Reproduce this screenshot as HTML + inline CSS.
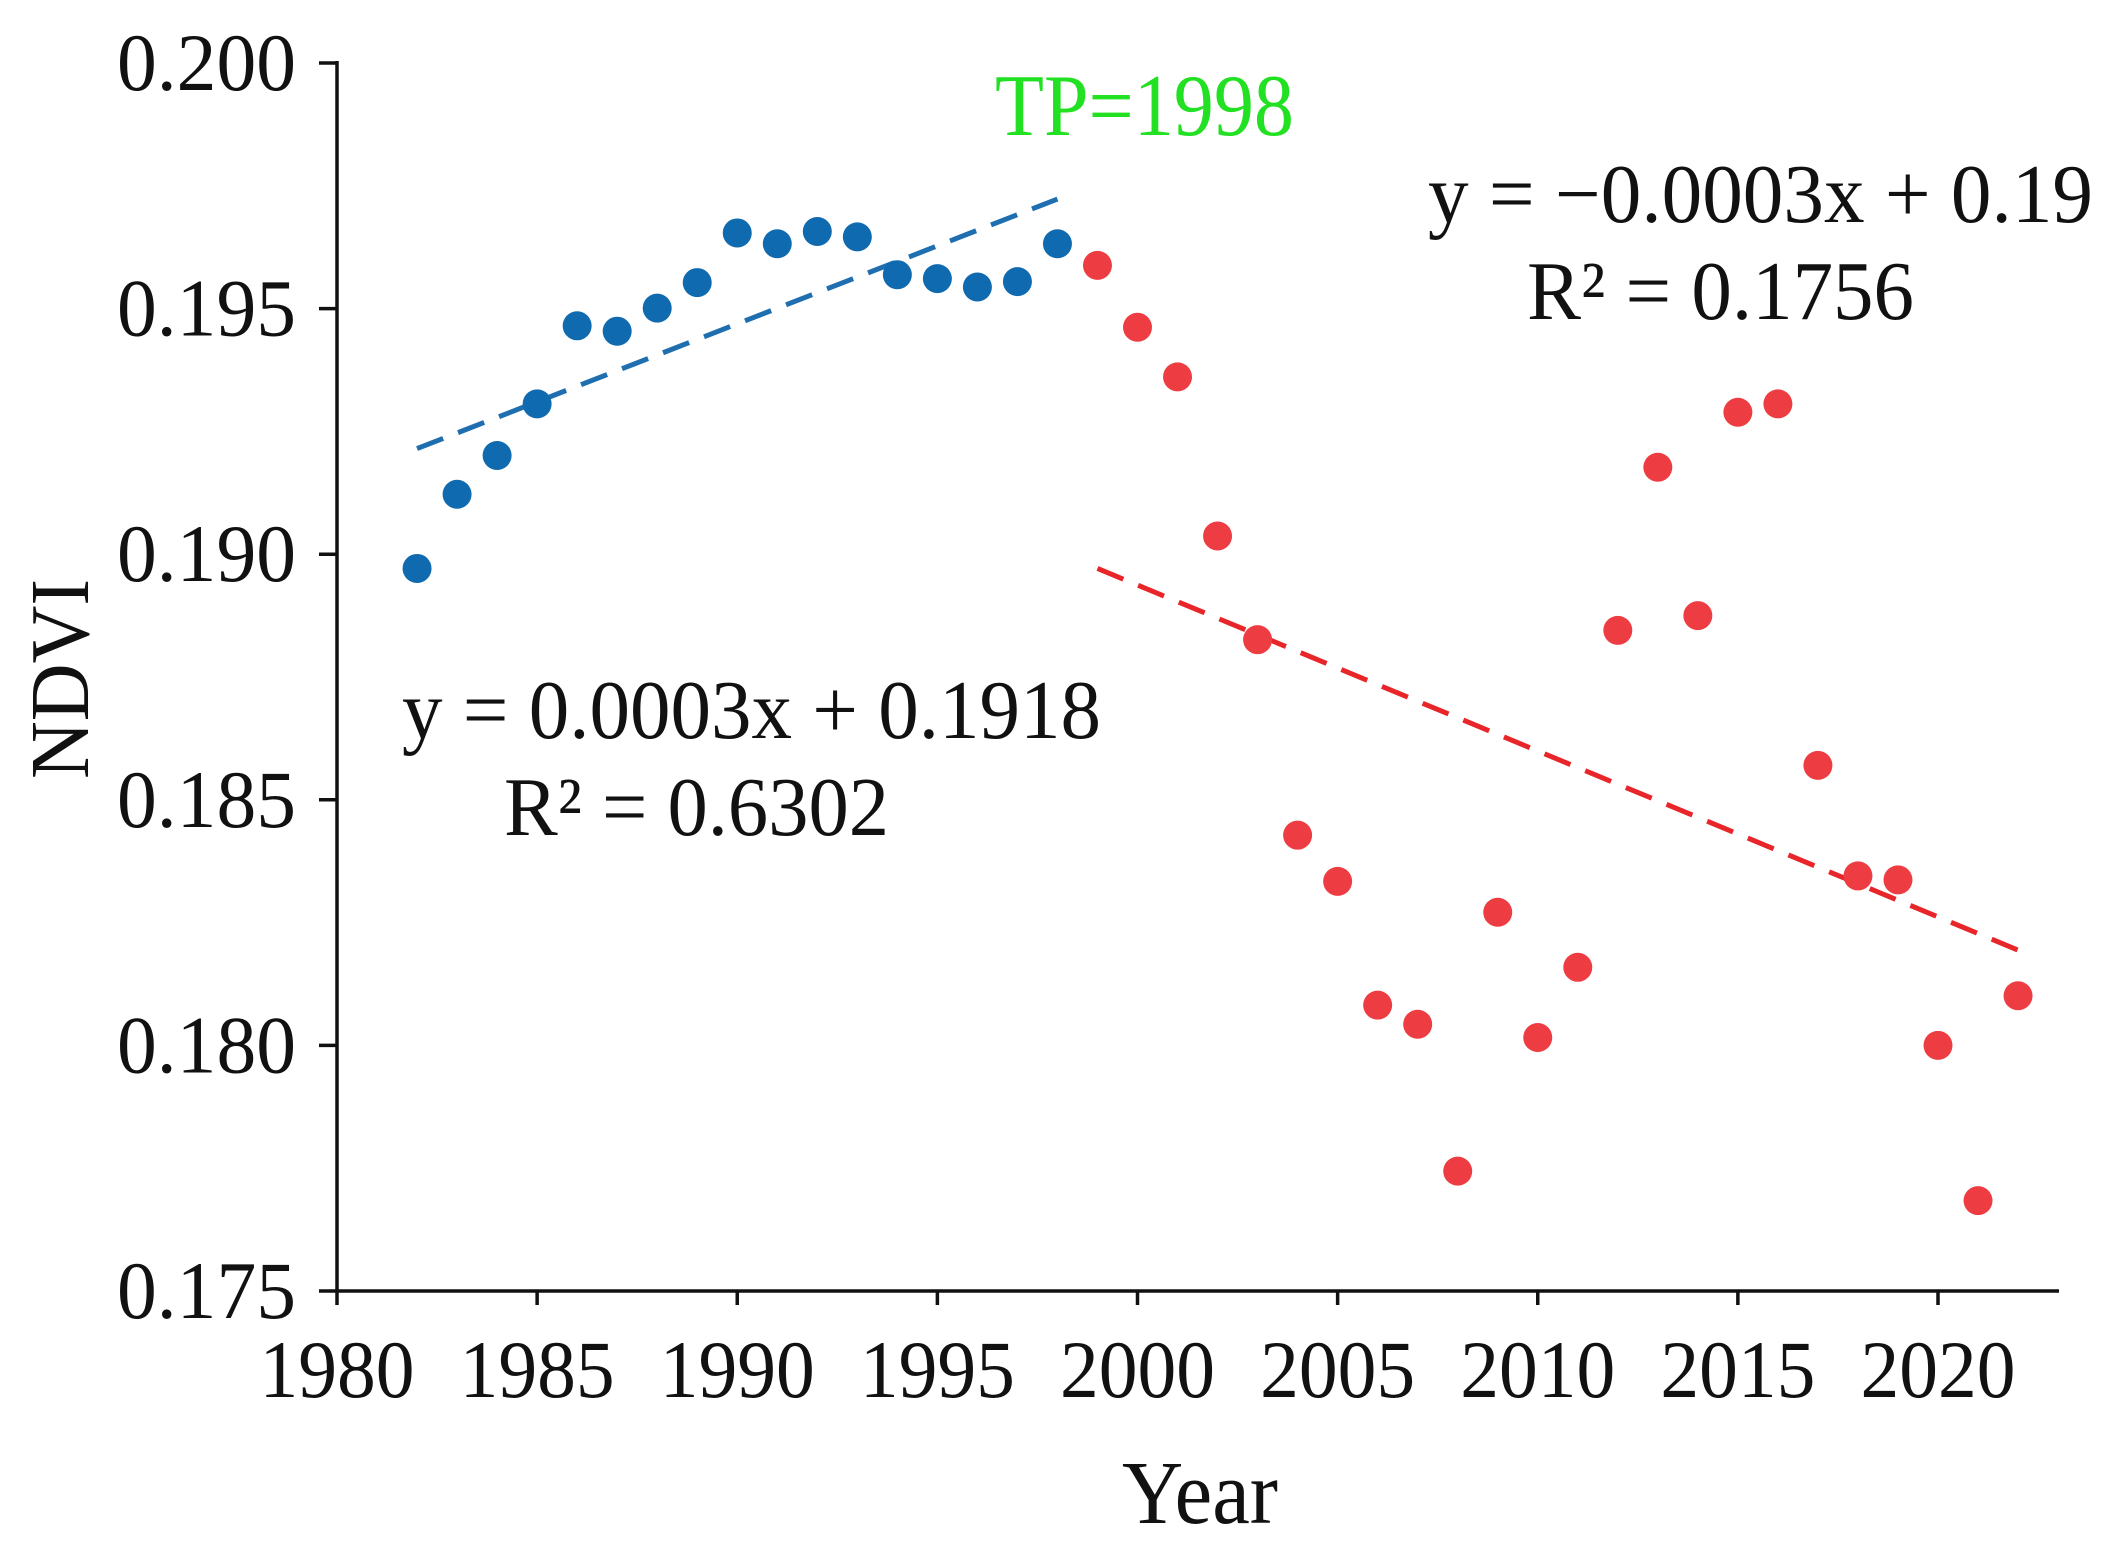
<!DOCTYPE html>
<html><head><meta charset="utf-8"><style>
html,body{margin:0;padding:0;background:#fff;}
svg{display:block;font-family:"Liberation Serif","DejaVu Serif",serif;}
</style></head><body>
<svg id="chart" width="2113" height="1557" viewBox="0 0 2113 1557" xmlns="http://www.w3.org/2000/svg">
<g id="axes"></g>
<g id="marks"></g>
<text x="995" y="135" font-size="88" fill="#22e022" textLength="299" lengthAdjust="spacingAndGlyphs">TP=1998</text>
<text x="1428" y="222" font-size="84" fill="#111" textLength="665" lengthAdjust="spacingAndGlyphs">y = −0.0003x + 0.19</text>
<text x="1527" y="319" font-size="84" fill="#111" textLength="387" lengthAdjust="spacingAndGlyphs">R² = 0.1756</text>
<text x="402" y="738" font-size="84" fill="#111" textLength="699" lengthAdjust="spacingAndGlyphs">y = 0.0003x + 0.1918</text>
<text x="504" y="835" font-size="84" fill="#111" textLength="385" lengthAdjust="spacingAndGlyphs">R² = 0.6302</text>
<text x="1200" y="1523" font-size="90" text-anchor="middle" fill="#111" textLength="156" lengthAdjust="spacingAndGlyphs">Year</text>
<text transform="translate(88,679) rotate(-90)" font-size="84" text-anchor="middle" fill="#111" textLength="200" lengthAdjust="spacingAndGlyphs">NDVI</text>
</svg>
<script>
const yearsBlue = [1982,1983,1984,1985,1986,1987,1988,1989,1990,1991,1992,1993,1994,1995,1996,1997,1998];
const ndviBlue = [0.18971,0.19122,0.19201,0.19306,0.19465,0.19454,0.19501,0.19553,0.19654,0.19632,0.19657,0.19646,0.19569,0.19561,0.19544,0.19555,0.19632];
const yearsRed = [1999,2000,2001,2002,2003,2004,2005,2006,2007,2008,2009,2010,2011,2012,2013,2014,2015,2016,2017,2018,2019,2020,2021,2022];
const ndviRed = [0.19588,0.19462,0.19361,0.19037,0.18826,0.18428,0.18334,0.18082,0.18043,0.17744,0.18271,0.18016,0.18159,0.18845,0.19177,0.18875,0.19289,0.19306,0.1857,0.18345,0.18337,0.18,0.17684,0.18101];
const trendBlueYears = [1982,1998];
const trendBlueVals = [0.19215,0.19723];
const trendRedYears = [1999,2022];
const trendRedVals = [0.18971,0.18194];
const xTicks = [1980,1985,1990,1995,2000,2005,2010,2015,2020];
const yTicks = [0.175,0.180,0.185,0.190,0.195,0.200];
const yTickLabels = ["0.175","0.180","0.185","0.190","0.195","0.200"];

const NS="http://www.w3.org/2000/svg";
const X0=337,X1=1938,Y0=1291,Y1=63,XEND=2059;
function xs(v){return X0+(v-1980)/40*(X1-X0);}
function ys(v){return Y0-(v-0.175)/0.025*(Y0-Y1);}
function mk(tag,attrs,parent){const e=document.createElementNS(NS,tag);for(const k in attrs)e.setAttribute(k,attrs[k]);parent.appendChild(e);return e;}
const axes=document.getElementById('axes'),marks=document.getElementById('marks');

let el=mk('line',{x1:X0,y1:Y1-2,x2:X0,y2:Y0,stroke:'#111','stroke-width':3.5},axes);


el=mk('line',{x1:X0,y1:Y0,x2:XEND,y2:Y0,stroke:'#111','stroke-width':3.5},axes);


yTicks.forEach((t,i)=>{
  const y=ys(t);
  let tk=mk('line',{x1:X0-18,y1:y,x2:X0,y2:y,stroke:'#111','stroke-width':3.5},axes);
  
  
  let tx=mk('text',{x:296,y:y+27,'font-size':82,'text-anchor':'end',fill:'#111',textLength:179,lengthAdjust:'spacingAndGlyphs'},axes);
  tx.textContent=yTickLabels[i];
  
  
});
xTicks.forEach(t=>{
  const x=xs(t);
  let tk=mk('line',{x1:x,y1:Y0,x2:x,y2:Y0+14,stroke:'#111','stroke-width':3.5},axes);
  
  
  let tx=mk('text',{x:x,y:1397,'font-size':82,'text-anchor':'middle',fill:'#111',textLength:155,lengthAdjust:'spacingAndGlyphs'},axes);
  tx.textContent=String(t);
  
  
});
el=mk('line',{x1:xs(trendBlueYears[0]),y1:ys(trendBlueVals[0]),x2:xs(trendBlueYears[1]),y2:ys(trendBlueVals[1]),stroke:'#1f6fb0','stroke-width':5,'stroke-dasharray':'28 16'},marks);


el=mk('line',{x1:xs(trendRedYears[0]),y1:ys(trendRedVals[0]),x2:xs(trendRedYears[1]),y2:ys(trendRedVals[1]),stroke:'#e8262a','stroke-width':5,'stroke-dasharray':'28 16'},marks);


yearsBlue.forEach((yr,i)=>{
  let c=mk('circle',{cx:xs(yr),cy:ys(ndviBlue[i]),r:14.5,fill:'#0f6aaf'},marks);
  
  
});
yearsRed.forEach((yr,i)=>{
  let c=mk('circle',{cx:xs(yr),cy:ys(ndviRed[i]),r:14.5,fill:'#ee3d42'},marks);
  
  
});
</script>
</body></html>
